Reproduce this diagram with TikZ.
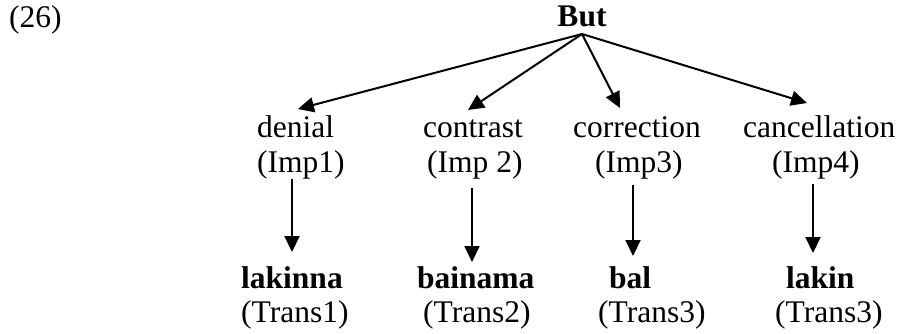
\documentclass[tikz,border=0pt]{standalone}
\usepackage{fontspec}
\setmainfont{Liberation Serif}
\usetikzlibrary{arrows.meta}
\begin{document}
\begin{tikzpicture}[x=1pt,y=-1pt,
  txt/.style={inner sep=0pt,anchor=base west,font=\fontsize{31.5}{36}\selectfont},
  btxt/.style={txt,font=\fontsize{31.5}{36}\selectfont\bfseries},
  arr/.style={line width=2pt,-{Triangle[length=16pt,width=15pt]}}]
\useasboundingbox (0,0) rectangle (899,334);
\node[txt] (num) at (9,28) {(26)};
\node[btxt,anchor=base] (but) at (582,27) {But};
\coordinate (top) at (582,34);
% level 1
\node[txt] (den) at (257,138) {denial};
\node[txt] (imp1) at (257,172) {(Imp1)};
\node[txt] (con) at (423,138) {contrast};
\node[txt] (imp2) at (427,172) {(Imp 2)};
\node[txt] (cor) at (573,138) {correction};
\node[txt] (imp3) at (595,172) {(Imp3)};
\node[txt] (can) at (743,138) {cancellation};
\node[txt] (imp4) at (772,172) {(Imp4)};
% level 2
\node[btxt] (w1) at (241,288) {lakinna};
\node[txt] (t1) at (241,322) {(Trans1)};
\node[btxt] (w2) at (417,288) {bainama};
\node[txt] (t2) at (423,322) {(Trans2)};
\node[btxt] (w3) at (609,288) {bal};
\node[txt] (t3) at (598,322) {(Trans3)};
\node[btxt] (w4) at (786,288) {lakin};
\node[txt] (t4) at (775,322) {(Trans3)};
% arrow ends
\coordinate (e1) at (298,109);
\coordinate (e2) at (468,110);
\coordinate (e3) at (620,108);
\coordinate (e4) at (807,103);
\draw[arr] (top) -- (e1);
\draw[arr] (top) -- (e2);
\draw[arr] (top) -- (e3);
\draw[arr] (top) -- (e4);
\coordinate (s1) at (292,179); \coordinate (f1) at (292,252);
\coordinate (s2) at (472,188); \coordinate (f2) at (472,262);
\coordinate (s3) at (633,185); \coordinate (f3) at (633,256);
\coordinate (s4) at (813,184); \coordinate (f4) at (813,253);
\draw[arr] (s1) -- (f1);
\draw[arr] (s2) -- (f2);
\draw[arr] (s3) -- (f3);
\draw[arr] (s4) -- (f4);
\end{tikzpicture}
\end{document}
